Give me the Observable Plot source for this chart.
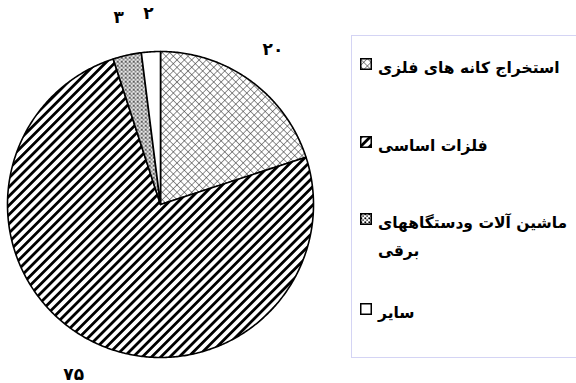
<!DOCTYPE html>
<html><head><meta charset="utf-8">
<script src="https://cdn.jsdelivr.net/npm/d3@7"></script>
<script src="https://cdn.jsdelivr.net/npm/@observablehq/plot@0.6"></script>
<style>
body{margin:0;background:#fff;}
#wrap{position:relative;width:576px;height:383px;overflow:hidden;background:#fff;}
#legend{position:absolute;left:351px;top:35px;width:240px;height:323px;border:1px solid #d4d4f4;box-sizing:border-box;font-family:"DejaVu Sans",sans-serif;font-weight:bold;font-size:15.5px;color:#000;}
.row{position:absolute;left:8px;display:flex;align-items:flex-start;line-height:28px;}
.row svg{flex:none;margin-top:4px;}
.txt{direction:rtl;text-align:left;margin-left:6px;white-space:nowrap;}
</style>
</head><body>
<svg width="0" height="0" style="position:absolute">
<defs>
<pattern id="p-cross" width="5.2" height="5.2" patternUnits="userSpaceOnUse" patternTransform="rotate(45)">
<rect width="5.2" height="5.2" fill="#fff"/>
<line x1="0" y1="0" x2="0" y2="5.2" stroke="#3a3a3a" stroke-width="1.1"/>
<line x1="0" y1="0" x2="5.2" y2="0" stroke="#3a3a3a" stroke-width="1.1"/>
</pattern>
<pattern id="p-hatch" width="6.5" height="6.5" patternUnits="userSpaceOnUse" patternTransform="rotate(45)">
<rect width="6.5" height="6.5" fill="#fff"/>
<rect x="0" y="0" width="2.8" height="6.5" fill="#000"/>
</pattern>
<pattern id="p-dots" width="4" height="4" patternUnits="userSpaceOnUse">
<rect width="4" height="4" fill="#fff"/>
<rect x="0.4" y="0.4" width="1.8" height="1.8" fill="#000"/>
<rect x="2.4" y="2.4" width="1.4" height="1.4" fill="#111"/>
</pattern>
<pattern id="p-none" width="4" height="4" patternUnits="userSpaceOnUse">
<rect width="4" height="4" fill="#fff"/>
</pattern>
</defs>
</svg>
<div id="wrap"><div id="chart"></div><div id="legend"></div></div>
<script>
// Data
const categories = ["استخراج کانه های فلزی", "فلزات اساسی", "ماشین آلات ودستگاههای برقی", "سایر"];
const legendLines = [["استخراج کانه های فلزی"], ["فلزات اساسی"], ["ماشین آلات ودستگاههای", "برقی"], ["سایر"]];
const values = [20, 75, 3, 2];
const valueLabels = ["۲۰", "۷۵", "۳", "۲"];
const patterns = ["url(#p-cross)", "url(#p-hatch)", "url(#p-dots)", "url(#p-none)"];

// Layout
const W = 576, H = 383, cx = 160, cy = 204, R = 153;
const labelRadius = 1.25;

const arcs = d3.pie().sort(null).value((d) => d)(values);
const points = [];
arcs.forEach((a, i) => {
  points.push({slice: categories[i], fill: patterns[i], x: 0, y: 0});
  const n = Math.max(2, Math.ceil((a.endAngle - a.startAngle) / 0.01));
  for (let k = 0; k <= n; k++) {
    const t = a.startAngle + (a.endAngle - a.startAngle) * k / n;
    points.push({slice: categories[i], fill: patterns[i], x: Math.sin(t), y: Math.cos(t)});
  }
});
const labels = arcs.map((a, i) => {
  const m = (a.startAngle + a.endAngle) / 2;
  return {text: valueLabels[i], x: labelRadius * Math.sin(m), y: labelRadius * Math.cos(m)};
});

const plot = Plot.plot({
  width: W, height: H,
  margin: 0,
  x: {domain: [-cx / R, (W - cx) / R], axis: null},
  y: {domain: [(cy - H) / R, cy / R], axis: null},
  color: {type: "identity"},
  marks: [
    Plot.line(points, {x: "x", y: "y", z: "slice", fill: "fill", stroke: "#000", strokeWidth: 1.6, strokeLinejoin: "round", curve: "linear-closed"}),
    Plot.text(labels, {x: "x", y: "y", text: "text", fontSize: 17, fontWeight: "bold", fontFamily: "DejaVu Sans", fill: "#000"})
  ]
});
document.getElementById("chart").appendChild(plot);

// Legend
const legend = document.getElementById("legend");
const rowTops = [18, 96, 173, 263];
categories.forEach((c, i) => {
  const row = document.createElement("div");
  row.className = "row";
  row.style.top = rowTops[i] + "px";
  row.innerHTML = `<svg width="12" height="12"><rect x="0.75" y="0.75" width="10.5" height="10.5" fill="${patterns[i]}" stroke="#000" stroke-width="1.5"/></svg>`;
  const t = document.createElement("div");
  t.className = "txt";
  t.innerHTML = legendLines[i].join("<br>");
  row.appendChild(t);
  legend.appendChild(row);
});
</script>
</body></html>
